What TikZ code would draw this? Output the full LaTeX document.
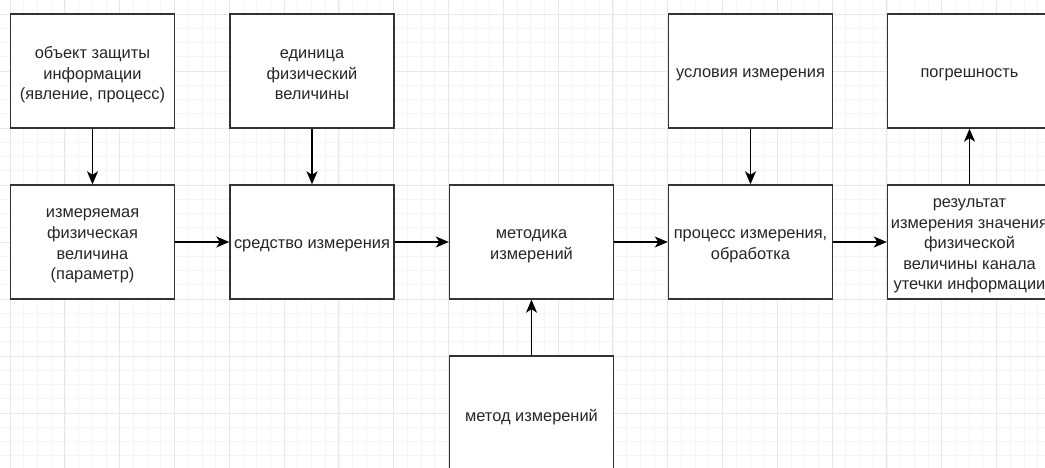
\documentclass[tikz,border=0pt]{standalone}
\usepackage{fontspec}
\setmainfont{Liberation Sans}
\usetikzlibrary{arrows.meta}
\begin{document}
\begin{tikzpicture}[x=1pt,y=-1pt,
  blk/.style={draw=black!80, line width=1.4pt, fill=white, minimum width=164pt, minimum height=114pt,
    inner sep=0pt},
  txt/.style={align=center, inner sep=0pt, text=black!85, font=\fontsize{16.4}{20.6}\selectfont, yshift=-4pt},
  conn/.style={draw=black, line width=1.4pt, -{Stealth[length=13pt,width=11pt,inset=3.5pt]}}]
\useasboundingbox (0,0) rectangle (1045,468);
\clip (0,0) rectangle (1045,468);
\fill[white] (0,0) rectangle (1045,468);
% minor grid
\foreach \i in {0,...,80} {\draw[black!4, line width=0.6pt] ({10+13.7*(\i-4)},0) -- ({10+13.7*(\i-4)},468);}
\foreach \j in {0,...,36} {\draw[black!4, line width=0.6pt] (0,{14+14.25*(\j-1)}) -- (1045,{14+14.25*(\j-1)});}
% major grid
\foreach \i in {0,...,20} {\draw[black!9, line width=0.8pt] ({10+54.8*(\i-1)},0) -- ({10+54.8*(\i-1)},468);}
\foreach \j in {0,...,9} {\draw[black!9, line width=0.8pt] (0,{14+57*(\j-1)}) -- (1045,{14+57*(\j-1)});}
% nodes
\node[blk, label={[txt]center:объект защиты\\информации\\(явление, процесс)}] (obj) at (92.5,71) {};
\node[blk, label={[txt]center:единица\\физический\\величины}] (unit) at (312,71) {};
\node[blk, label={[txt]center:условия измерения}] (cond) at (750.5,71) {};
\node[blk, label={[txt]center:погрешность}] (err) at (969.5,71) {};
\node[blk, label={[txt]center:измеряемая\\физическая\\величина\\(параметр)}] (meas) at (92.5,242) {};
\node[blk, label={[txt]center:средство измерения}] (tool) at (312,242) {};
\node[blk, label={[txt]center:методика\\измерений}] (tech) at (531.5,242) {};
\node[blk, label={[txt]center:процесс измерения,\\обработка}] (proc) at (750.5,242) {};
\node[blk, label={[txt]center:результат\\измерения значения\\физической\\величины канала\\утечки информации}] (res) at (969.5,242) {};
\node[blk, label={[txt]center:метод измерений}] (meth) at (531.5,413) {};
% connectors
\draw[conn] (obj) -- (meas);
\draw[conn] (unit) -- (tool);
\draw[conn] (meas) -- (tool);
\draw[conn] (tool) -- (tech);
\draw[conn] (tech) -- (proc);
\draw[conn] (proc) -- (res);
\draw[conn] (meth) -- (tech);
\draw[conn] (cond) -- (proc);
\draw[conn] (res) -- (err);
\end{tikzpicture}
\end{document}
